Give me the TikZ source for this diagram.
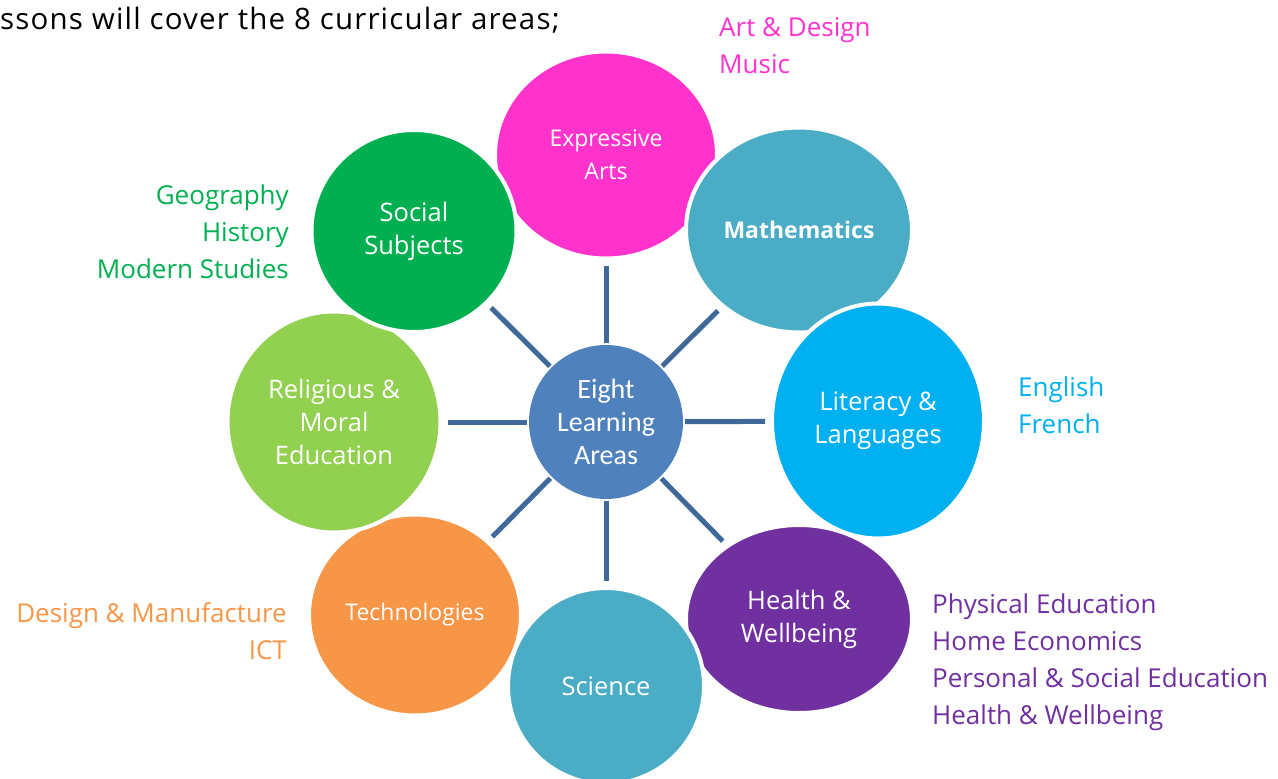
\documentclass[tikz,border=0pt]{standalone}
\usepackage{fontspec}
\setmainfont{Open Sans}
\newfontfamily\calib{Carlito}
\usetikzlibrary{shapes.geometric}
\definecolor{pinkA}{HTML}{FF33CC}
\definecolor{socialG}{HTML}{00B050}
\definecolor{relG}{HTML}{92D050}
\definecolor{techO}{HTML}{F79646}
\definecolor{tealA}{HTML}{4BACC6}
\definecolor{litC}{HTML}{00B0F0}
\definecolor{purpA}{HTML}{7030A0}
\definecolor{centerB}{HTML}{4F81BD}
\definecolor{spokeB}{HTML}{3E6999}
\begin{document}
\begin{tikzpicture}[x=1pt,y=-1pt,
  area/.style={ellipse, draw=white, line width=4pt, text=white, align=center,
    inner sep=0pt, font=\fontsize{25.5}{33}\selectfont},
  narrowtext/.style={font=\fontsize{23}{33}\selectfont},
  hub/.style={circle, fill=centerB, minimum size=154pt, inner sep=0pt, text=white,
    align=center, font=\calib\fontsize{28}{33}\selectfont},
  spoke/.style={draw=spokeB, line width=5pt, shorten <=2pt, shorten >=5pt},
  lab/.style={inner sep=0pt, font=\fontsize{26}{37}\selectfont}]
\useasboundingbox (0,0) rectangle (1278,779);
\node[anchor=west, inner sep=0pt, font=\addfontfeature{LetterSpace=4}\fontsize{29.5}{32}\selectfont] (head) at (0,20) {ssons will cover the 8 curricular areas;};
% outer areas, bottom to top
\node[area, narrowtext, fill=pinkA, minimum width=222pt, minimum height=207pt] (ea) at (606,155) {Expressive\\Arts};
\node[area, fill=tealA, minimum width=226pt, minimum height=205pt, font=\bfseries\fontsize{23}{33}\selectfont] (ma) at (799,230) {Mathematics};
\node[area, fill=litC, minimum width=212pt, minimum height=235pt] (li) at (878,421) {Literacy \&\\Languages};
\node[area, fill=purpA, minimum width=226pt, minimum height=188pt] (hw) at (799,619) {Health \&\\Wellbeing};
\node[area, fill=tealA, minimum width=196pt, minimum height=196pt] (sc) at (606,686) {Science};
\node[area, narrowtext, fill=techO, minimum width=212pt, minimum height=201pt] (te) at (415,615) {Technologies};
\node[area, fill=relG, minimum width=213pt, minimum height=221pt] (re) at (334,422) {Religious \&\\Moral\\Education};
\node[area, fill=socialG, minimum width=205pt, minimum height=202pt] (so) at (414,231) {Social\\Subjects};
% hub
\node[hub] (c) at (606,422) {Eight\\Learning\\Areas};
% spokes
\foreach \t in {ea,ma,li,hw,sc,te,re,so} \draw[spoke] (c) -- (\t);
% side labels
\node[lab, text=pinkA, align=left, anchor=west] (l1) at (719,46) {Art \& Design\\Music};
\node[lab, text=socialG, align=right, anchor=east] (l2) at (289,232) {Geography\\History\\Modern Studies};
\node[lab, text=litC, align=left, anchor=west] (l3) at (1018,405) {English\\French};
\node[lab, text=purpA, align=left, anchor=west] (l4) at (932,662) {Physical Education\\Home Economics\\Personal \& Social Education\\Health \& Wellbeing};
\node[lab, text=techO, align=right, anchor=east] (l5) at (287,631) {Design \& Manufacture\\ICT};
\end{tikzpicture}
\end{document}
